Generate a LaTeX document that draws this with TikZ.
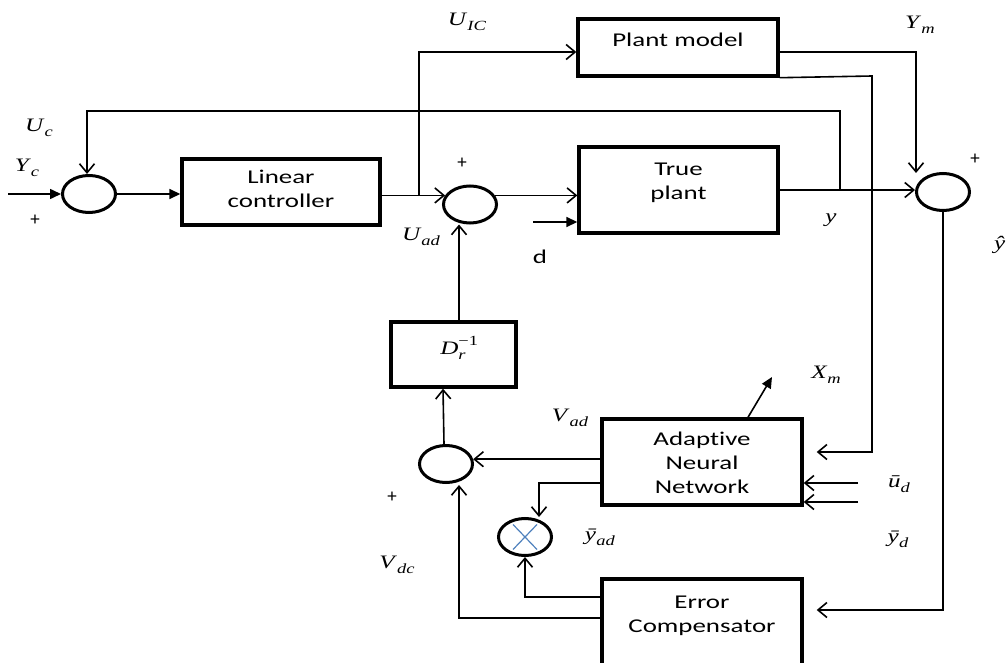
\documentclass[tikz,border=0pt]{standalone}
\usepackage{fontspec}
\setmainfont{Carlito}
\newfontfamily\boxfont[FakeStretch=1.38,Ligatures=NoCommon]{Carlito}
\newfontfamily\lblfont[FakeStretch=1.32]{Liberation Serif}
\usetikzlibrary{arrows.meta,shapes.geometric,calc}
\definecolor{xblue}{RGB}{79,129,189}
% italic symbol with an italic subscript
\newcommand\subsz{\fontsize{14}{15}\selectfont}
\newcommand\sym[2]{\textit{#1}\raisebox{-0.26em}{\subsz\textit{#2}}}

\tikzset{
  x=1pt, y=-1pt,
  blk/.style={draw, line width=3.4pt, rectangle, inner sep=0pt},
  btxt/.style={inner sep=0pt, align=center, font=\boxfont\fontsize{19.5}{24}\selectfont},
  sum/.style={draw, line width=3pt, ellipse, minimum width=53pt, minimum height=37pt, inner sep=0pt},
  wire/.style={line width=1.6pt},
  open/.style={wire, -{Straight Barb[length=9pt,width=15pt,line width=1.6pt]}},
  farr/.style={wire, -{Triangle[length=11pt,width=10pt]}},
  lbl/.style={inner sep=0pt, font=\lblfont\fontsize{19}{22}\selectfont},
  sgn/.style={inner sep=0pt, font=\fontsize{19}{22}\selectfont},
}

\begin{document}
\begin{tikzpicture}
\useasboundingbox (0,0) rectangle (1007,663);
\clip (0,0) rectangle (1007,663);

% blocks
\node[blk, minimum width=198pt, minimum height=66pt] (LC) at (281,192) {};
\node[blk, minimum width=200pt, minimum height=57pt] (PM) at (678,47.5) {};
\node[blk, minimum width=199pt, minimum height=86pt] (TP) at (678.5,190) {};
\node[blk, minimum width=125pt, minimum height=65pt] (D) at (453.5,354.5) {};
\node[blk, minimum width=200pt, minimum height=86pt] (ANN) at (702,462) {};
\node[blk, minimum width=200pt, minimum height=121pt] (EC) at (702,639.5) {};

% block texts (base = baseline of the last line)
\node[btxt, anchor=base] at (LC.center |- 0,207.5) {Linear\\controller};
\node[btxt, anchor=base] at (PM.center |- 0,47) {Plant model};
\node[btxt, anchor=base] at (TP.center |- 0,200) {True\\plant};
\node[btxt, anchor=base] at (ANN.center |- 0,493) {Adaptive\\Neural\\Network};
\node[btxt, anchor=base] at (EC.center |- 0,632) {Error\\Compensator};
\node[lbl] at (453,348) {\textit{D}\rlap{\raisebox{0.5em}{\subsz −1}}\raisebox{-0.26em}{\subsz\textit{r}}\hspace{1.05em}};

% summing junctions and multiplier
\node[sum] (S1) at (89,194) {};
\node[sum] (S2) at (470,204.5) {};
\node[sum] (S3) at (943,192) {};
\node[sum] (S4) at (446,464) {};
\node[sum] (M) at (525,537) {};
\draw[xblue, line width=1.2pt] ($(M.center)+(-12,-12.5)$) -- ($(M.center)+(12,12.5)$)
                               ($(M.center)+(-12,12.5)$) -- ($(M.center)+(12,-12.5)$);

% free ends and branch points
\coordinate (yin) at (8,194);
\coordinate (din) at (533,222);
\coordinate (ytap) at (840,190);
\coordinate (ictap) at (419,195);
\coordinate (pmx) at (872,76);
\coordinate (ud1) at (858,483);
\coordinate (ud2) at (858,502);
\coordinate (xm) at (772,377);

% connectors
\draw[farr] (yin) -- (S1.west);
\draw[farr] (S1.east) -- (S1.east -| LC.west);
\draw[open] (ytap) -- ++(0,-79) -| ($(S1.north)+(-2,0)$);
\draw[open] (S2.160 -| LC.east) -- (S2.160);
\draw[open] (ictap) |- ($(PM.west)+(0,4.5)$);
\draw[open] (S2.20) -- (S2.20 -| TP.west);
\draw[farr] (din) -- (din -| TP.west);
\draw[open] (TP.east) -- (TP.east -| S3.west);
\draw[open] ($(PM.east)+(0,4.5)$) -| ($(S3.north)+(-27,1)$);
\draw[open] (PM.south east) -- (pmx) |- ($(ANN.east)+(13,-10)$);
\draw[open] (S3.south) |- ($(EC.east)+(13,-29.5)$);
\draw[open] (ud1) -- (ud1 -| ANN.east);
\draw[open] (ud2) -- (ud2 -| ANN.east);
\draw[farr] ($(ANN.north)+(46,0)$) -- (xm);
\draw[open] (S4.10 -| ANN.west) -- (S4.10);
\draw[open] ($(ANN.west)+(0,21)$) -| ($(M.north)+(14,0)$);
\draw[open] ($(EC.west)+(0,-42.5)$) -| (M.south);
\draw[open] ($(EC.west)+(0,-21.5)$) -| ($(S4.south)+(13,1)$);
\draw[open] ($(S4.north)+(-2,0)$) -- ($(D.south)+(-10.5,0)$);
\draw[open] ($(D.north)+(5.5,0)$) -- ($(S2.south)+(-11,0)$);

% signal labels
\node[lbl] at (467,22) {\sym{U}{IC}};
\node[lbl] at (39,128) {\sym{U}{c}};
\node[lbl] at (27,168) {\sym{Y}{c}};
\node[lbl] at (920,25) {\sym{Y}{m}};
\node[lbl] at (831,220) {\textit{y}};
\node[lbl] at (421,237) {\sym{U}{ad}};
\node[lbl] at (570,418) {\sym{V}{ad}};
\node[lbl] at (397,565) {\sym{V}{dc}};
\node[lbl] at (600,537) {\sym{ȳ}{ad}};
\node[lbl] at (899,484) {\sym{ū}{d}};
\node[lbl] at (898,539) {\sym{ȳ}{d}};
\node[lbl] at (826,375) {\sym{X}{m}};
\node[lbl, anchor=west] at (994,245) {\textit{ŷ}};
\node[btxt] at (540,257) {d};

% signs
\node[sgn] at (35,220) {+};
\node[sgn] at (462,163) {+};
\node[sgn] at (975,159) {+};
\node[sgn] at (392,497) {+};
\end{tikzpicture}
\end{document}
